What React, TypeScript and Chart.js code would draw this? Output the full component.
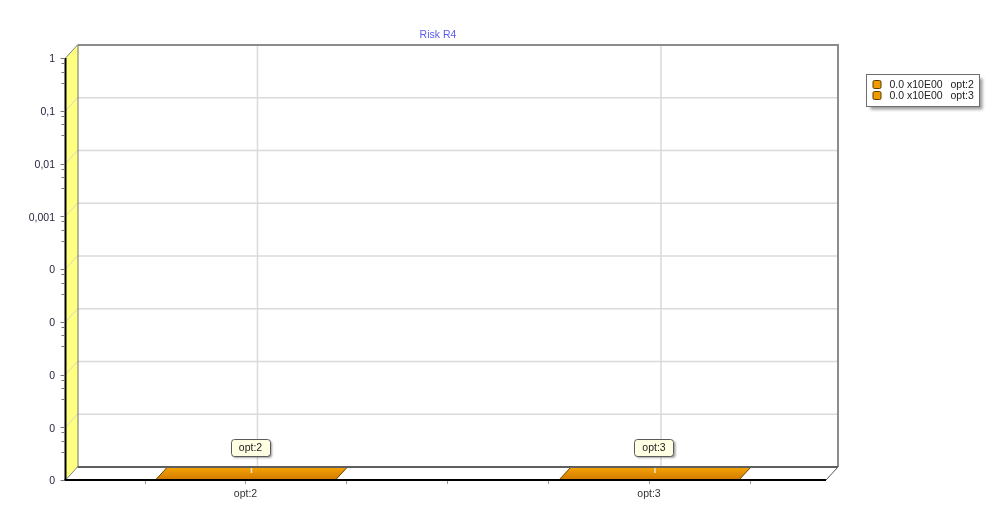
import React, { useEffect, useRef } from 'react';
import { Chart, registerables } from 'chart.js';

Chart.register(...registerables);

// ---- data ----
const TITLE = 'Risk R4';
const CATEGORIES = ['opt:2', 'opt:3'];
const SERIES_LABELS = ['opt:2', 'opt:3'];
const SERIES_VALUES = [0, 0];
const SERIES_COLORS = ['#ef9b00', '#ef9b00'];
const Y_TICKS = [1, 0.1, 0.01, 0.001, 0.0001, 0.00001, 0.000001, 0.0000001, 0.00000001];
const Y_MINOR_FACTORS = [0.8, 0.55, 0.34];
const X_MINOR_TICKS = [-0.25, 0, 0.25, 0.5, 0.75, 1, 1.25];

// ---- 3D depth ----
const DX = 12;
const DY = -13;
const FONT = '"Liberation Sans", Arial, sans-serif';

function fmtY(v: number): string {
  if (v >= 0.001) return String(v).replace('.', ',');
  return '0';
}

function line(ctx: CanvasRenderingContext2D, x1: number, y1: number, x2: number, y2: number) {
  ctx.beginPath();
  ctx.moveTo(x1, y1);
  ctx.lineTo(x2, y2);
  ctx.stroke();
}

function roundRect(ctx: CanvasRenderingContext2D, x: number, y: number, w: number, h: number, r: number) {
  ctx.beginPath();
  ctx.moveTo(x + r, y);
  ctx.lineTo(x + w - r, y);
  ctx.quadraticCurveTo(x + w, y, x + w, y + r);
  ctx.lineTo(x + w, y + h - r);
  ctx.quadraticCurveTo(x + w, y + h, x + w - r, y + h);
  ctx.lineTo(x + r, y + h);
  ctx.quadraticCurveTo(x, y + h, x, y + h - r);
  ctx.lineTo(x, y + r);
  ctx.quadraticCurveTo(x, y, x + r, y);
  ctx.closePath();
}

const scene3d = {
  id: 'scene3d',
  beforeDatasetsDraw(chart: any) {
    const { ctx, chartArea: a, scales } = chart;
    const ys = scales.y;
    const xs = scales.x;
    ctx.save();

    // back wall horizontal grid
    ctx.strokeStyle = '#dadada';
    ctx.lineWidth = 1.5;
    Y_TICKS.forEach((v) => {
      if (v === 1 || v === Y_TICKS[Y_TICKS.length - 1]) return;
      const y = ys.getPixelForValue(v);
      line(ctx, a.left + DX, y + DY, a.right + DX, y + DY);
    });
    // back wall vertical grid at categories
    CATEGORIES.forEach((_, i) => {
      const x = xs.getPixelForValue(i);
      line(ctx, x + DX, a.top + DY, x + DX, a.bottom + DY);
    });

    // back wall border
    ctx.strokeStyle = '#8c8c8c';
    ctx.lineWidth = 2;
    line(ctx, a.left + DX, a.top + DY, a.right + DX + 1, a.top + DY);
    line(ctx, a.right + DX, a.top + DY, a.right + DX, a.bottom + DY);

    // left wall
    ctx.fillStyle = '#ffff80';
    ctx.beginPath();
    ctx.moveTo(a.left, a.top);
    ctx.lineTo(a.left + DX, a.top + DY);
    ctx.lineTo(a.left + DX, a.bottom + DY);
    ctx.lineTo(a.left, a.bottom);
    ctx.closePath();
    ctx.fill();
    ctx.strokeStyle = '#d6d6c8';
    ctx.lineWidth = 1;
    Y_TICKS.forEach((v) => {
      if (v === 1 || v === Y_TICKS[Y_TICKS.length - 1]) return;
      const y = ys.getPixelForValue(v);
      line(ctx, a.left, y, a.left + DX, y + DY);
    });
    ctx.strokeStyle = '#6f6f50';
    ctx.lineWidth = 1;
    line(ctx, a.left + DX + 0.5, a.top + DY, a.left + DX + 0.5, a.bottom + DY);
    ctx.strokeStyle = '#808080';
    line(ctx, a.left, a.top, a.left + DX, a.top + DY);

    // floor
    ctx.fillStyle = '#ffffff';
    ctx.beginPath();
    ctx.moveTo(a.left, a.bottom);
    ctx.lineTo(a.left + DX, a.bottom + DY);
    ctx.lineTo(a.right + DX, a.bottom + DY);
    ctx.lineTo(a.right, a.bottom);
    ctx.closePath();
    ctx.fill();
    ctx.strokeStyle = '#808080';
    ctx.lineWidth = 1;
    line(ctx, a.left, a.bottom, a.left + DX, a.bottom + DY);
    ctx.strokeStyle = '#555555';
    line(ctx, a.right, a.bottom, a.right + DX, a.bottom + DY);

    // bars: the top faces sit on the floor (value 0)
    chart.data.datasets.forEach((ds: any, di: number) => {
      const meta = chart.getDatasetMeta(di);
      meta.data.forEach((el: any) => {
        const p = el.getProps(['x', 'y', 'base', 'width'], true);
        const l = p.x - p.width / 2;
        const r = p.x + p.width / 2;
        const yf = p.y;
        const g = ctx.createLinearGradient(0, yf + DY, 0, yf);
        g.addColorStop(0, '#f5a400');
        g.addColorStop(1, '#d27900');
        ctx.fillStyle = g;
        ctx.beginPath();
        ctx.moveTo(l, yf);
        ctx.lineTo(r, yf);
        ctx.lineTo(r + DX, yf + DY);
        ctx.lineTo(l + DX, yf + DY);
        ctx.closePath();
        ctx.fill();
        ctx.strokeStyle = '#6b4300';
        ctx.lineWidth = 1;
        line(ctx, l, yf, l + DX, yf + DY);
        line(ctx, r, yf, r + DX, yf + DY);
        // light leader line on the face
        ctx.strokeStyle = 'rgba(255,255,255,0.75)';
        ctx.lineWidth = 1.5;
        const cx = p.x + DX / 2;
        line(ctx, cx, yf + DY, cx, yf + DY + 6);
      });
    });

    // floor back edge
    ctx.strokeStyle = '#5e5e5e';
    ctx.lineWidth = 2;
    line(ctx, a.left + DX, a.bottom + DY, a.right + DX, a.bottom + DY);

    // front axes
    ctx.strokeStyle = '#000000';
    ctx.lineWidth = 2;
    line(ctx, a.left, a.top, a.left, a.bottom + 1);
    line(ctx, a.left - 1, a.bottom, a.right, a.bottom);

    // y ticks
    ctx.strokeStyle = '#777777';
    ctx.lineWidth = 1;
    Y_TICKS.forEach((v, i) => {
      const y = Math.round(ys.getPixelForValue(v)) + 0.5;
      line(ctx, a.left - 5, y, a.left - 1, y);
      if (i < Y_TICKS.length - 1) {
        Y_MINOR_FACTORS.forEach((f) => {
          const ym = Math.round(ys.getPixelForValue(v * f)) + 0.5;
          line(ctx, a.left - 4, ym, a.left - 1, ym);
        });
      }
    });
    // x ticks
    ctx.strokeStyle = '#9a9a9a';
    X_MINOR_TICKS.forEach((v) => {
      const x = Math.round(xs.getPixelForValue(v)) + 0.5;
      line(ctx, x, a.bottom + 1, x, a.bottom + 4);
    });
    ctx.restore();
  },
  afterDatasetsDraw(chart: any) {
    const { ctx } = chart;
    ctx.save();
    ctx.font = `10.5px ${FONT}`;
    ctx.textAlign = 'center';
    ctx.textBaseline = 'middle';
    // data label boxes
    chart.data.datasets.forEach((ds: any, di: number) => {
      const meta = chart.getDatasetMeta(di);
      meta.data.forEach((el: any) => {
        const p = el.getProps(['x', 'y'], true);
        const text = ds.label;
        const w = ctx.measureText(text).width + 16;
        const h = 17;
        const cx = p.x + 5;
        const cy = p.y + DY - 19.5;
        ctx.save();
        ctx.shadowColor = 'rgba(0,0,0,0.35)';
        ctx.shadowOffsetX = 2;
        ctx.shadowOffsetY = 2;
        ctx.shadowBlur = 2;
        ctx.fillStyle = '#ffffe4';
        roundRect(ctx, cx - w / 2, cy - h / 2, w, h, 3);
        ctx.fill();
        ctx.restore();
        ctx.strokeStyle = '#5a5a5a';
        ctx.lineWidth = 1;
        roundRect(ctx, Math.round(cx - w / 2) + 0.5, Math.round(cy - h / 2) + 0.5, Math.round(w), h, 3);
        ctx.stroke();
        ctx.fillStyle = '#222222';
        ctx.fillText(text, cx, cy + 0.5);
      });
    });

    // title
    ctx.fillStyle = '#5b5bf2';
    ctx.fillText(TITLE, 430, 27);

    // legend
    const lx = 858.5;
    const ly = 66.5;
    const lw = 113;
    const rowH = 11;
    const lh = 10 + rowH * chart.data.datasets.length;
    ctx.save();
    ctx.shadowColor = 'rgba(0,0,0,0.4)';
    ctx.shadowOffsetX = 3;
    ctx.shadowOffsetY = 3;
    ctx.shadowBlur = 3;
    ctx.fillStyle = '#ffffff';
    ctx.fillRect(lx, ly, lw, lh);
    ctx.restore();
    ctx.strokeStyle = '#6e6e6e';
    ctx.lineWidth = 1;
    ctx.strokeRect(lx, ly, lw, lh);
    ctx.textAlign = 'left';
    chart.data.datasets.forEach((ds: any, i: number) => {
      const cy = ly + 10.5 + i * rowH;
      ctx.fillStyle = SERIES_COLORS[i];
      roundRect(ctx, lx + 6.5, cy - 4.5, 8, 8, 1.5);
      ctx.fill();
      ctx.strokeStyle = '#5a3a00';
      ctx.stroke();
      ctx.fillStyle = '#222222';
      const v = SERIES_VALUES[i];
      ctx.fillText(`${v.toFixed(1)} x10E00`, lx + 23, cy);
      ctx.fillText(ds.label, lx + 84, cy);
    });
    ctx.restore();
  },
};

export default function App() {
  const ref = useRef<HTMLCanvasElement | null>(null);
  useEffect(() => {
    if (!ref.current) return;
    Chart.defaults.font.family = FONT;
    Chart.defaults.font.size = 10.5;
    const chart = new Chart(ref.current, {
      type: 'bar',
      data: {
        datasets: SERIES_LABELS.map((label, i) => ({
          label,
          data: [{ x: i, y: SERIES_VALUES[i] }],
          backgroundColor: 'rgba(0,0,0,0)',
          borderWidth: 0,
          grouped: false,
          categoryPercentage: 1,
          barPercentage: 0.446,
        })),
      },
      options: {
        responsive: false,
        devicePixelRatio: 1,
        animation: false,
        events: [],
        layout: { padding: { left: 0, top: 50, right: 164, bottom: 4 } },
        plugins: {
          legend: { display: false },
          title: { display: false },
          tooltip: { enabled: false },
        },
        scales: {
          x: {
            type: 'linear',
            min: -0.446,
            max: 1.4387,
            offset: false,
            grid: { display: false, drawTicks: false },
            border: { display: false },
            afterBuildTicks: (scale: any) => {
              scale.ticks = CATEGORIES.map((_, i) => ({ value: i }));
            },
            afterFit: (scale: any) => {
              scale.height = 20;
            },
            ticks: {
              padding: 8,
              color: '#333333',
              maxRotation: 0,
              autoSkip: false,
              callback: (v: any) => CATEGORIES[v] ?? '',
            },
          },
          y: {
            type: 'logarithmic',
            min: 0.00000001,
            max: 1,
            grid: { display: false, drawTicks: false },
            border: { display: false },
            afterBuildTicks: (scale: any) => {
              scale.ticks = Y_TICKS.map((v) => ({ value: v }));
            },
            afterFit: (scale: any) => {
              scale.width = 57.5;
            },
            ticks: {
              padding: 10.5,
              labelOffset: 1.5,
              color: '#262640',
              autoSkip: false,
              callback: (v: any) => fmtY(Number(v)),
            },
          },
        },
      },
      plugins: [scene3d],
    } as any);
    return () => chart.destroy();
  }, []);
  return <canvas ref={ref} width={982} height={496} style={{ display: 'block' }} />;
}
